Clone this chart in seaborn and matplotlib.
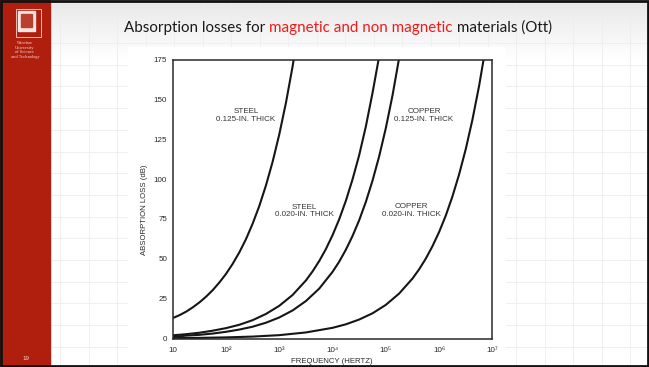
import numpy as np
import pandas as pd
import matplotlib
matplotlib.use('Agg')
import matplotlib.pyplot as plt
import seaborn as sns
from matplotlib.patches import Rectangle

# curve readings: log10(frequency) -> absorption loss (dB)
steel_125_exp = [1.0, 1.125, 1.25, 1.375, 1.5, 1.625, 1.75, 1.875, 2.0, 2.125, 2.25, 2.375,
                 2.5, 2.625, 2.75, 2.875, 3.0, 3.125, 3.25, 3.375]
steel_125_db = [12.8, 14.6, 16.8, 19.5, 22.6, 26.2, 30.3, 35.1, 40.5, 46.8, 54, 62.3,
                72, 83.1, 96, 110.8, 128, 147.8, 170.6, 197]

steel_020_exp = [1.0, 1.25, 1.5, 1.75, 2.0, 2.25, 2.5, 2.75, 3.0, 3.25, 3.5, 3.625, 3.75,
                 3.875, 4.0, 4.125, 4.25, 4.375, 4.5, 4.625, 4.75, 4.875, 5.0]
steel_020_db = [2.0, 2.7, 3.6, 4.9, 6.5, 8.6, 11.5, 15.4, 20.5, 27.3, 36.4, 42.1, 48.6,
                56.1, 64.8, 74.8, 86.4, 99.8, 115, 133, 154, 177, 205]

copper_125_exp = [1.0, 1.25, 1.5, 1.75, 2.0, 2.25, 2.5, 2.75, 3.0, 3.25, 3.5, 3.75, 4.0,
                  4.125, 4.25, 4.375, 4.5, 4.625, 4.75, 4.875, 5.0, 5.125, 5.25, 5.375]
copper_125_db = [1.0, 1.8, 2.3, 3.1, 4.2, 5.6, 7.4, 9.9, 13.2, 17.6, 23.5, 31.3, 41.8,
                 48.2, 55.7, 64.3, 74.2, 85.7, 99, 114.3, 132, 152.4, 176, 203]

copper_020_exp = [1.0, 1.5, 2.0, 2.5, 3.0, 3.5, 4.0, 4.25, 4.5, 4.75, 5.0, 5.25, 5.5, 5.625,
                  5.75, 5.875, 6.0, 6.125, 6.25, 6.375, 6.5, 6.625, 6.75, 6.875]
copper_020_db = [0.2, 0.4, 0.7, 1.2, 2.1, 3.8, 6.7, 8.9, 11.9, 15.8, 21.1, 28.2, 37.6, 43.4,
                 50.1, 57.9, 66.8, 77.1, 89.1, 102.9, 118.8, 137.2, 158.4, 182.9]

x_ticks = [10, 1e2, 1e3, 1e4, 1e5, 1e6, 1e7]
x_tick_labels = ['10', '10²', '10³', '10⁴', '10⁵', '10⁶', '10⁷']
y_ticks = [0, 25, 50, 75, 100, 125, 150, 175]

curve_labels = ['STEEL\n0.125-IN. THICK', 'STEEL\n0.020-IN. THICK',
                'COPPER\n0.125-IN. THICK', 'COPPER\n0.020-IN. THICK']
label_freq = [237, 2950, 5.2e5, 3.0e5]
label_db = [139.7, 79.9, 139.7, 80.4]

title_parts = ['Absorption losses for ', 'magnetic and non magnetic', ' materials (Ott)']
title_colors = ['#1a1a1a', '#f01a1a', '#1a1a1a']

sns.set_theme(style='white')
plt.rcParams['font.family'] = ['Liberation Sans', 'DejaVu Sans']

W, H = 649, 367
fig = plt.figure(figsize=(W / 100, H / 100), dpi=100)

# slide background in pixel coordinates
bg = fig.add_axes([0, 0, 1, 1])
bg.set_xlim(0, W)
bg.set_ylim(H, 0)
bg.axis('off')
grad = np.linspace(0.91, 1.0, 60)
grad = np.concatenate([grad, np.ones(H - 60)])
bg.imshow(np.tile(grad[:, None, None], (1, 1, 3)), extent=[0, W, H, 0], aspect='auto', zorder=0)
for gx in np.arange(60, W, 28.5):
    bg.plot([gx, gx], [0, H], color='#ededed', lw=0.6, zorder=1)
for gy in np.arange(43, H, 21.7):
    bg.plot([50, W], [gy, gy], color='#ededed', lw=0.6, zorder=1)
bg.add_patch(Rectangle((128, 47), 377, 318, color='white', zorder=2))
bg.add_patch(Rectangle((0, 0), 50, H, color='#b01e0e', zorder=3))
bg.add_patch(Rectangle((16, 9), 25, 28, fill=False, ec='#f3d6d0', lw=0.6, zorder=4))
bg.add_patch(Rectangle((18, 11), 17, 20, color='#f6e6e2', zorder=4))
bg.add_patch(Rectangle((21, 14), 11, 13, color='#b8402c', zorder=5))
for i, t in enumerate(['Wrocław', 'University', 'of Science', 'and Technology']):
    bg.text(25, 43 + i * 4.7, t, fontsize=2.6, color='#f3d6d0', ha='center', va='center',
            family='DejaVu Serif', zorder=5)
bg.text(26, 358, '19', fontsize=4.5, color='#f3d6d0', ha='center', va='center', zorder=5)
bg.add_patch(Rectangle((1, 1), W - 2, H - 2.5, fill=False, ec='#111111', lw=2, zorder=6))

# title with coloured middle part
fig.canvas.draw()
renderer = fig.canvas.get_renderer()
x0 = 124
for part, col in zip(title_parts, title_colors):
    t = bg.text(x0, 28, part, fontsize=10.9, color=col, ha='left', va='center',
                family=['Lato', 'DejaVu Sans'], zorder=7)
    bb = t.get_window_extent(renderer=renderer)
    x0 += bb.width

# chart
ax = fig.add_axes([172.7 / W, 1 - 338.5 / H, (492.4 - 172.7) / W, (338.5 - 59.5) / H])
ax.set_facecolor('white')
curves = [(steel_125_exp, steel_125_db), (steel_020_exp, steel_020_db),
          (copper_125_exp, copper_125_db), (copper_020_exp, copper_020_db)]
for exps, vals in curves:
    df = pd.DataFrame({'freq': np.power(10.0, exps), 'db': vals})
    sns.lineplot(data=df, x='freq', y='db', ax=ax, color='#161616', lw=1.5,
                 estimator=None, sort=False)
ax.set_xscale('log')
ax.set_xlim(10, 1e7)
ax.set_ylim(0, 175)
ax.set_xticks(x_ticks)
ax.set_xticklabels(x_tick_labels)
ax.minorticks_off()
ax.set_yticks(y_ticks)
ax.tick_params(direction='in', length=6, width=1, labelsize=5.8, colors='#2a2a2a', pad=4)
ax.tick_params(axis='x', pad=6)
for s in ax.spines.values():
    s.set_color('#2a2a2a')
    s.set_linewidth(1.1)
ax.set_xlabel('')
ax.set_ylabel('')
for lab, fx, fy in zip(curve_labels, label_freq, label_db):
    ax.text(fx, fy, lab, fontsize=5.8, color='#333333', ha='center', va='center', linespacing=1.15)

bg.text(332, 361.5, 'FREQUENCY (HERTZ)', fontsize=5.6, color='#2a2a2a', ha='center', va='center', zorder=7)
bg.text(145, 210, 'ABSORPTION LOSS (dB)', fontsize=5.6, color='#2a2a2a', ha='center', va='center',
        rotation=90, zorder=7)

fig.savefig('out.png', dpi=100)
